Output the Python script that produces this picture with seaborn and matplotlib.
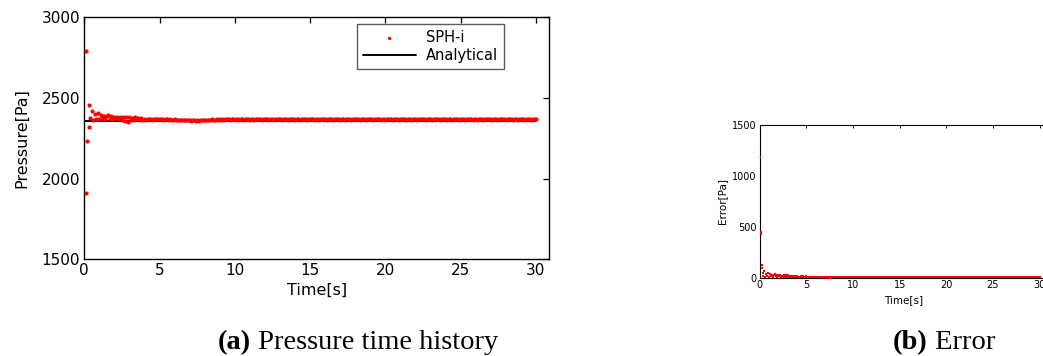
import numpy as np
import pandas as pd
import matplotlib
matplotlib.use("Agg")
import matplotlib.pyplot as plt
import seaborn as sns

# Simulated pressure at the probe (SPH-i), start-up transient
t_start = [0.00, 0.10, 0.12, 0.21, 0.29, 0.33]
p_start = [1178, 1911, 2788, 2235, 2457, 2317]

# Settling phase, 0.4 s to 5.0 s
t_settle = [round(0.4 + 0.1 * i, 2) for i in range(47)]
p_settle = [2372, 2420, 2365, 2398, 2371, 2405, 2366, 2392, 2374, 2388,
            2368, 2385, 2394, 2370, 2386, 2366, 2383, 2372, 2380, 2368,
            2378, 2362, 2381, 2355, 2384, 2350, 2382, 2361, 2376, 2364,
            2379, 2366, 2374, 2362, 2372, 2365, 2370, 2364, 2369, 2366,
            2370, 2365, 2371, 2366, 2369, 2367, 2370]

# Steady phase, 5.1 s to 30.0 s
t_steady = [round(5.1 + 0.1 * i, 2) for i in range(250)]
p_steady = [2366, 2368, 2365, 2367, 2366, 2364, 2367, 2365, 2363, 2366,
            2364, 2362, 2365, 2363, 2361, 2364, 2362, 2360, 2363, 2361,
            2359, 2362, 2360, 2358, 2361, 2359, 2362, 2360, 2363, 2361,
            2364, 2362, 2365, 2363, 2366, 2364, 2365, 2367, 2365, 2366,
            2364, 2367, 2365, 2366, 2368, 2366, 2365, 2367, 2366, 2364,
            2366, 2367, 2365, 2368, 2366, 2365, 2367, 2366, 2368, 2365,
            2366, 2367, 2365, 2366, 2368, 2366, 2367, 2365, 2366, 2367,
            2366, 2368, 2365, 2367, 2366, 2365, 2367, 2366, 2368, 2366,
            2365, 2367, 2366, 2367, 2365, 2366, 2368, 2366, 2367, 2365,
            2367, 2366, 2365, 2367, 2366, 2368, 2366, 2365, 2367, 2366,
            2366, 2368, 2365, 2367, 2366, 2365, 2367, 2366, 2368, 2366,
            2365, 2367, 2366, 2367, 2365, 2366, 2368, 2366, 2367, 2365,
            2367, 2366, 2365, 2368, 2366, 2367, 2365, 2366, 2367, 2366,
            2368, 2366, 2365, 2367, 2366, 2367, 2365, 2366, 2368, 2366,
            2367, 2365, 2366, 2367, 2366, 2368, 2365, 2367, 2366, 2365,
            2367, 2366, 2368, 2366, 2365, 2367, 2366, 2367, 2365, 2366,
            2368, 2366, 2367, 2365, 2367, 2366, 2365, 2368, 2366, 2367,
            2365, 2366, 2367, 2366, 2368, 2366, 2365, 2367, 2366, 2367,
            2365, 2366, 2368, 2366, 2367, 2365, 2366, 2367, 2366, 2368,
            2365, 2367, 2366, 2365, 2367, 2366, 2368, 2366, 2365, 2367,
            2366, 2367, 2365, 2366, 2368, 2366, 2367, 2365, 2367, 2366,
            2365, 2368, 2366, 2367, 2365, 2366, 2367, 2366, 2368, 2366,
            2365, 2367, 2366, 2367, 2365, 2366, 2368, 2366, 2367, 2365,
            2366, 2367, 2366, 2368, 2365, 2367, 2366, 2365, 2367, 2366,
            2368, 2366, 2365, 2367, 2366, 2367, 2365, 2366, 2368, 2366]

# Hydrostatic reference value
p_analytical = 2358
t_analytical = [0.0, 30.0]

x_ticks = [0, 5, 10, 15, 20, 25, 30]
p_ticks = [1500, 2000, 2500, 3000]
e_ticks = [0, 500, 1000, 1500]

time = np.array(t_start + t_settle + t_steady, dtype=float)
pressure = np.array(p_start + p_settle + p_steady, dtype=float)
sph = pd.DataFrame({"t": time, "p": pressure,
                    "err": np.abs(pressure - p_analytical)})
ana = pd.DataFrame({"t": t_analytical, "p": [p_analytical] * 2})

sns.set_theme(style="white")
plt.rcParams["font.family"] = ["DejaVu Sans"]
plt.rcParams.update({
    "axes.edgecolor": "black", "axes.labelcolor": "black",
    "text.color": "black", "xtick.color": "black", "ytick.color": "black",
})

fig = plt.figure(figsize=(10.43, 3.56), dpi=100)

# (a) pressure time history
ax1 = fig.add_axes([0.0808, 0.2716, 0.4455, 0.6806])
sns.scatterplot(data=sph, x="t", y="p", ax=ax1, color="red", s=9,
                linewidth=0, marker="o", label="SPH-i", zorder=3)
sns.lineplot(data=ana, x="t", y="p", ax=ax1, color="black", lw=1.4,
             label="Analytical", zorder=2)
ax1.set_xlim(0, 30.86)
ax1.set_ylim(1500, 3000)
ax1.set_xticks(x_ticks)
ax1.set_yticks(p_ticks)
ax1.set_xlabel("Time[s]", fontsize=11.5, labelpad=3)
ax1.set_ylabel("Pressure[Pa]", fontsize=11.5, labelpad=9)
ax1.tick_params(direction="in", length=4, width=0.9, top=True, right=True,
                labelsize=11, pad=3)
for s in ax1.spines.values():
    s.set_linewidth(1.0)
    s.set_color("black")
leg = ax1.legend(loc="upper right", bbox_to_anchor=(0.903, 0.971),
                 borderaxespad=0, fontsize=10.5, frameon=True,
                 fancybox=False, handlelength=3.6, handletextpad=0.7,
                 borderpad=0.4, labelspacing=0.2, markerscale=0.8)
leg.get_frame().set_edgecolor("#333333")
leg.get_frame().set_linewidth(1.0)

# (b) absolute error
ax2 = fig.add_axes([0.7284, 0.22, 0.276, 0.43])
sns.scatterplot(data=sph, x="t", y="err", ax=ax2, color="red", s=4,
                linewidth=0, marker="s", zorder=3)
ax2.set_xlim(0, 30.86)
ax2.set_ylim(0, 1500)
ax2.set_xticks(x_ticks)
ax2.set_yticks(e_ticks)
ax2.set_xlabel("Time[s]", fontsize=7.5, labelpad=3.5)
ax2.set_ylabel("Error[Pa]", fontsize=7.5, labelpad=4)
ax2.tick_params(direction="in", length=2.5, width=0.7, top=True, right=True,
                labelsize=7, pad=2)
for s in ax2.spines.values():
    s.set_linewidth(0.8)
    s.set_color("black")

# Sub-figure captions: bold label followed by regular title
serif = ["Liberation Serif", "DejaVu Serif"]
cap_y = 0.0197


def caption(x, label, title):
    lab = fig.text(x, cap_y, label, family=serif, weight="bold",
                   fontsize=20.5, va="baseline")
    fig.canvas.draw()
    bb = lab.get_window_extent()
    fig.text(bb.x1 / fig.bbox.width, cap_y, title, family=serif,
             fontsize=20.5, va="baseline")


caption(0.209, "(a)", " Pressure time history")
caption(0.856, "(b)", " Error")

fig.savefig("out.png", dpi=100)
